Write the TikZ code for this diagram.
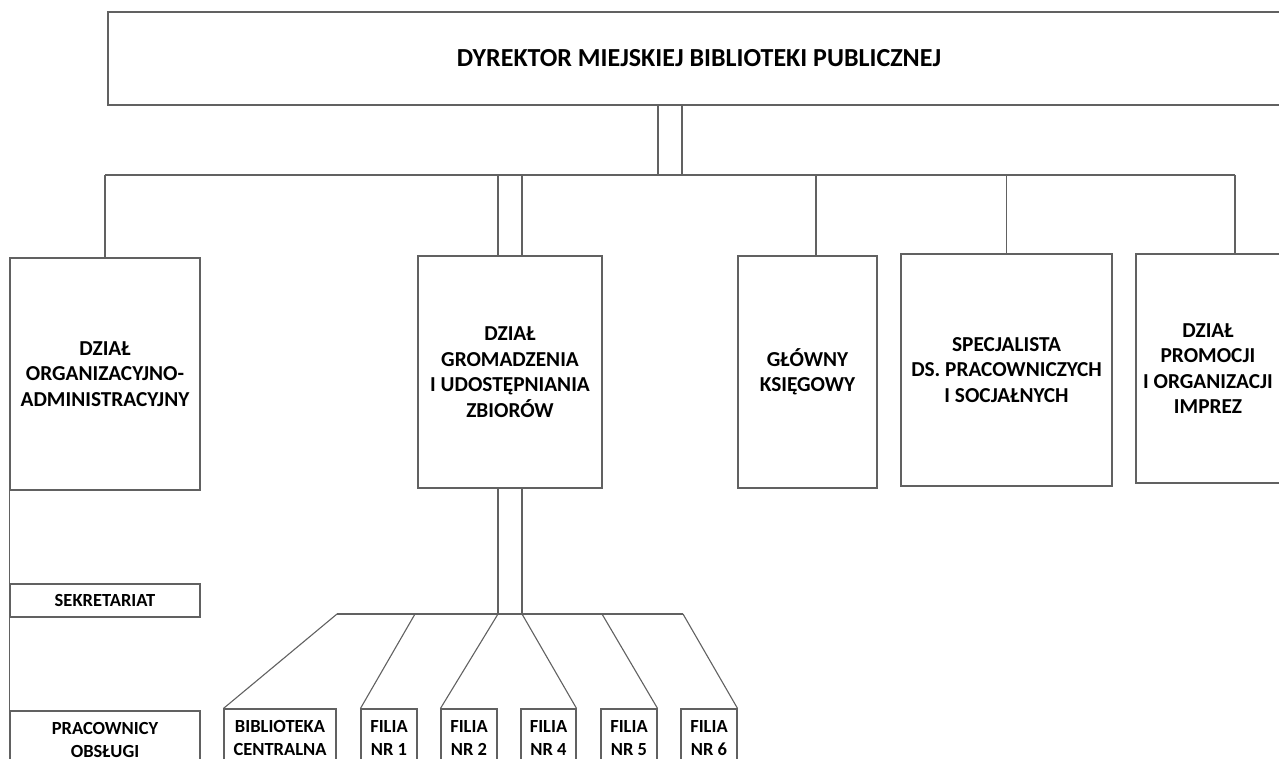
\documentclass[tikz,border=0pt]{standalone}
\usepackage{fontspec}
\setmainfont{Carlito}
\usepackage{tikz}
\definecolor{linegray}{gray}{0.38}

\begin{document}
\begin{tikzpicture}[x=1pt,y=-1pt,line width=1.1pt,
	box/.style={draw=linegray,rectangle,inner sep=1pt,align=center,font=\bfseries\fontsize{21.3}{25.5}\selectfont},
	smallbox/.style={box,font=\bfseries\fontsize{18.5}{22.5}\selectfont},
	link/.style={draw=linegray}]
	%the cut-out of the chart
	\useasboundingbox (0,0) rectangle (1279,759);
	\clip (0,0) rectangle (1279,759);
	
	%the director on top
	\node[box,minimum width=1182pt,minimum height=93pt,font=\bfseries\fontsize{26}{30}\selectfont] (dyr) at (699,58.5) {DYREKTOR MIEJSKIEJ BIBLIOTEKI PUBLICZNEJ};
	
	%the departments
	\node[box,minimum width=190pt,minimum height=232pt] (org) at (105,374) {DZIAŁ\\ORGANIZACYJNO-\\ADMINISTRACYJNY};
	\node[box,minimum width=184pt,minimum height=232pt] (grom) at (510,372) {DZIAŁ\\GROMADZENIA\\I UDOSTĘPNIANIA\\ZBIORÓW};
	\node[box,minimum width=139pt,minimum height=232pt] (ksieg) at (807.5,372) {GŁÓWNY\\KSIĘGOWY};
	\node[box,minimum width=211pt,minimum height=232pt] (spec) at (1006.5,370) {SPECJALISTA\\DS. PRACOWNICZYCH\\I SOCJAŁNYCH};
	\node[box,minimum width=144pt,minimum height=229pt] (prom) at (1208,368.5) {DZIAŁ\\PROMOCJI\\I ORGANIZACJI\\IMPREZ};
	
	%under the first department
	\node[smallbox,minimum width=190pt,minimum height=33pt] (sekr) at (105,600.5) {SEKRETARIAT};
	\node[smallbox,minimum width=190pt,minimum height=58pt] (prac) at (105,740) {PRACOWNICY\\OBSŁUGI};
	
	%the branches
	\node[smallbox,minimum width=112pt,minimum height=58pt] (bib) at (280,738) {BIBLIOTEKA\\CENTRALNA};
	\node[smallbox,minimum width=56pt,minimum height=58pt] (f1) at (389,738) {FILIA\\NR 1};
	\node[smallbox,minimum width=56pt,minimum height=58pt] (f2) at (469,738) {FILIA\\NR 2};
	\node[smallbox,minimum width=55pt,minimum height=58pt] (f4) at (548.5,738) {FILIA\\NR 4};
	\node[smallbox,minimum width=56pt,minimum height=58pt] (f5) at (629,738) {FILIA\\NR 5};
	\node[smallbox,minimum width=56pt,minimum height=58pt] (f6) at (709,738) {FILIA\\NR 6};
	
	%points on the upper bar
	\coordinate (b0) at (105,175);
	\coordinate (b1) at (658,175);
	\coordinate (b2) at (682,175);
	\coordinate (b3) at (498,175);
	\coordinate (b4) at (522,175);
	\coordinate (b5) at (816,175);
	\coordinate (b6) at (1006.5,175);
	\coordinate (b7) at (1235,175);
	
	%upper bar and its drops
	\draw[link] (b1) -- (b1 |- dyr.south);
	\draw[link] (b2) -- (b2 |- dyr.south);
	\draw[link] (b0) -- (b7);
	\draw[link] (b0) -- (org.north);
	\draw[link] (b3) -- (b3 |- grom.north);
	\draw[link] (b4) -- (b4 |- grom.north);
	\draw[link] (b5) -- (b5 |- ksieg.north);
	\draw[link] (b6) -- (spec.north);
	\draw[link] (b7) -- (b7 |- prom.north);
	
	%left line down to the staff
	\draw[link] (org.south west) -- (sekr.north west);
	\draw[link] (sekr.south west) -- (prac.north west);
	
	%points on the lower bar
	\coordinate (k1) at (337,614);
	\coordinate (k2) at (415,614);
	\coordinate (k3) at (498,614);
	\coordinate (k4) at (522,614);
	\coordinate (k5) at (602,614);
	\coordinate (k6) at (683,614);
	
	%lower bar and the branches
	\draw[link] (k3) -- (k3 |- grom.south);
	\draw[link] (k4) -- (k4 |- grom.south);
	\draw[link] (k1) -- (k6);
	\draw[link] (k1) -- (bib.north west);
	\draw[link] (k2) -- (f1.north west);
	\draw[link] (k3) -- (f2.north west);
	\draw[link] (k4) -- (f4.north east);
	\draw[link] (k5) -- (f5.north east);
	\draw[link] (k6) -- (f6.north east);
	
\end{tikzpicture}
\end{document}
